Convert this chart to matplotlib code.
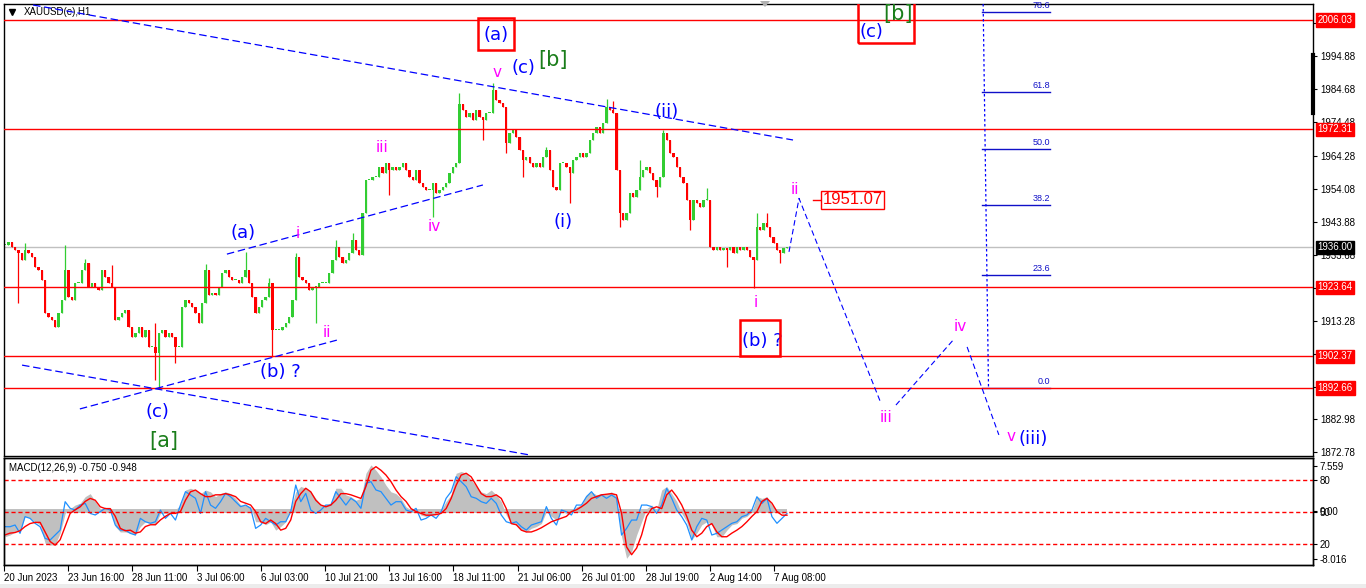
import numpy as np
import matplotlib
matplotlib.use("Agg")
import matplotlib.pyplot as plt
from matplotlib.lines import Line2D
from matplotlib.patches import Rectangle, Polygon
import matplotlib.transforms as mtransforms

# ---- XAUUSD H1 closes (one per ~3.3 px of the reference) ----
closes = [
    1936.7, 1937.7, 1936.2, 1935.2, 1934.2, 1932.1, 1935.2, 1934.2, 1933.1, 1930.0,
    1929.0, 1925.9, 1915.8, 1914.6, 1913.6, 1911.5, 1915.8, 1919.8, 1929.0, 1920.8,
    1919.8, 1925.0, 1925.0, 1929.0, 1931.1, 1923.9, 1925.0, 1923.9, 1922.9, 1929.0,
    1927.0, 1925.0, 1923.9, 1913.6, 1914.6, 1915.7, 1916.7, 1911.5, 1908.5, 1909.6,
    1911.5, 1908.5, 1910.5, 1905.4, 1905.4, 1903.4, 1909.6, 1910.5, 1908.5, 1909.6,
    1908.5, 1905.4, 1905.4, 1917.7, 1919.8, 1918.8, 1917.7, 1915.8, 1912.7, 1918.8,
    1929.0, 1921.3, 1922.0, 1921.3, 1923.9, 1928.0, 1929.0, 1927.0, 1925.9, 1925.9,
    1924.9, 1926.9, 1929.0, 1924.9, 1920.8, 1915.7, 1917.7, 1919.8, 1920.8, 1924.9,
    1910.5, 1910.5, 1910.5, 1911.5, 1912.6, 1914.6, 1919.8, 1933.1, 1926.9, 1925.9,
    1924.9, 1922.9, 1923.9, 1923.9, 1924.9, 1924.9, 1924.9, 1928.0, 1932.1, 1936.2,
    1933.1, 1931.1, 1932.1, 1934.2, 1938.3, 1935.2, 1933.6, 1946.5, 1956.7, 1956.7,
    1957.8, 1957.8, 1960.8, 1958.8, 1961.9, 1959.8, 1960.8, 1959.8, 1960.8, 1961.9,
    1959.8, 1957.8, 1956.7, 1959.8, 1955.7, 1954.7, 1953.6, 1953.6, 1955.7, 1952.6,
    1953.6, 1954.7, 1955.7, 1958.8, 1960.8, 1961.9, 1980.0, 1978.3, 1976.2, 1977.3,
    1975.2, 1978.3, 1976.2, 1975.2, 1977.3, 1977.3, 1984.5, 1981.4, 1980.4, 1979.3,
    1968.0, 1971.1, 1972.1, 1970.1, 1966.0, 1962.9, 1963.9, 1961.9, 1960.8, 1961.9,
    1960.8, 1963.9, 1966.0, 1959.8, 1954.7, 1953.6, 1961.9, 1961.9, 1960.8, 1958.8,
    1962.9, 1963.9, 1964.9, 1963.9, 1964.9, 1969.0, 1971.1, 1973.2, 1971.1, 1974.2,
    1979.3, 1978.3, 1977.3, 1959.8, 1946.5, 1944.4, 1946.5, 1952.6, 1951.6, 1953.6,
    1957.8, 1959.8, 1960.8, 1958.8, 1956.7, 1954.7, 1957.8, 1971.1, 1969.0, 1964.9,
    1963.9, 1960.8, 1957.8, 1955.7, 1950.6, 1944.4, 1950.6, 1949.6, 1948.5, 1950.6,
    1950.6, 1936.2, 1935.2, 1936.2, 1935.2, 1935.7, 1935.2, 1936.2, 1934.2, 1936.2,
    1935.2, 1936.2, 1935.2, 1933.1, 1932.1, 1942.4, 1941.3, 1943.4, 1942.4, 1939.3,
    1937.2, 1935.2, 1934.2, 1935.7, 1936.0,
]
# wick extremes that stick out of the bodies
spike_highs = {6: 1937.3, 18: 1936.7, 24: 1932.5, 32: 1930.5, 45: 1912.7, 60: 1931.0,
               72: 1934.7, 79: 1926.5, 87: 1934.3, 99: 1938.3, 104: 1940.4, 136: 1983.5,
               146: 1986.7, 162: 1967.0, 180: 1981.6, 182: 1981.0, 190: 1962.9,
               197: 1972.1, 210: 1954.2, 225: 1946.5, 228: 1946.5}
spike_lows = {4: 1918.8, 45: 1895.0, 46: 1892.7, 51: 1900.3, 80: 1902.3, 93: 1912.6,
              115: 1952.1, 128: 1945.4, 143: 1969.0, 150: 1965.0, 155: 1957.8,
              169: 1949.6, 184: 1942.4, 195: 1951.6, 205: 1941.3, 216: 1930.0,
              224: 1923.4, 232: 1931.1}

# ---- MACD window (sampled every 5 px) ----
macd_main = [
    -4.3, -4.0, -3.5, -3.2, -0.9, -1.2, -1.8, -2.3, -5.4, -5.7, -5.6, -3.7, -0.4, 0.4, 1.0, 1.3,
    2.4, 2.9, 1.6, 0.4, -0.4, 0.2, -2.6, -3.5, -3.5, -3.7, -4.0, -2.6, -1.8, -2.1, -2.3, -0.4,
    -0.4, -0.4, 0.2, 1.0, 3.5, 3.8, 3.5, 2.9, 3.5, 3.2, 2.4, 2.9, 3.2, 2.9, 2.1, 1.0, 1.0, 0.7,
    -1.8, -1.8, -2.3, -1.8, -3.2, -2.6, -1.8, 0.4, 3.2, 4.1, 3.8, 3.2, 2.1, 1.0, 1.0, 1.3, 3.8,
    3.8, 2.7, 2.4, 1.8, 2.1, 6.3, 7.7, 6.8, 5.7, 4.3, 3.2, 2.9, 2.1, 0.7, 0.2, 0.2, -0.7, -0.9,
    -0.7, -0.4, 0.2, 1.6, 2.7, 6.3, 6.6, 6.3, 5.2, 4.1, 3.2, 2.9, 3.5, 2.7, 1.6, -0.7, -2.1,
    -2.3, -3.2, -3.5, -2.9, -2.6, -2.1, -0.1, -0.9, -1.5, -0.1, -0.4, -0.1, 0.7, 1.0, 2.7, 3.2,
    2.7, 2.9, 2.9, 3.2, 2.4, -4.3, -7.9, -6.8, -4.0, -1.8, 0.4, 1.0, 0.2, 3.5, 4.1, 2.9, 1.6,
    -0.4, -1.8, -4.8, -3.7, -2.3, -1.8, -2.3, -4.3, -4.3, -3.2, -2.3, -2.1, -1.2, -0.9, -0.1,
    2.4, 2.1, 2.4, 1.0, 0.2, -0.4, -0.1,
]
macd_signal = [
    -4.0, -3.7, -3.6, -3.3, -2.6, -2.1, -1.9, -1.9, -3.5, -5.1, -5.7, -4.8, -2.6, -0.4, 0.2,
    0.7, 1.6, 2.1, 1.8, 0.7, 0.4, 0.4, -0.9, -2.9, -3.3, -3.2, -3.7, -3.5, -2.6, -2.3, -2.3,
    -1.5, -0.9, -0.4, -0.4, -0.1, 1.8, 3.2, 3.5, 2.9, 2.4, 2.4, 2.7, 2.7, 2.9, 2.7, 2.4, 1.6,
    1.3, 1.0, -0.1, -1.8, -2.1, -1.5, -2.1, -3.2, -2.9, -1.5, 1.6, 2.9, 3.8, 3.2, 1.8, 1.0,
    0.7, 1.0, 1.8, 2.9, 2.9, 2.7, 2.4, 2.1, 4.1, 6.8, 7.4, 6.8, 6.0, 4.9, 3.5, 2.4, 1.6, 0.4,
    -0.1, -0.4, -0.7, -0.7, -0.6, -0.4, 0.4, 2.1, 4.3, 6.0, 6.3, 5.7, 4.3, 2.9, 2.4, 2.4, 2.7,
    2.1, 0.4, -2.1, -2.3, -3.2, -3.5, -3.5, -3.2, -2.8, -2.3, -1.8, -1.5, -1.2, -0.9, -0.1,
    0.2, 0.7, 1.3, 2.1, 2.4, 2.7, 2.8, 2.9, 2.7, -0.4, -6.0, -7.3, -6.2, -4.0, -0.9, 0.4, 0.7,
    0.4, 2.7, 3.5, 2.4, 1.0, -0.9, -3.2, -4.3, -3.7, -2.6, -2.1, -3.5, -4.3, -4.3, -3.7, -3.2,
    -2.6, -1.8, -0.9, -0.1, 1.6, 2.1, 1.3, -0.1, -0.7, -0.7,
]
osc_line = [
    36.1, 36.1, 37.7, 29.8, 45.6, 44.0, 39.3, 36.1, 25.0, 23.5, 28.2, 32.9, 59.8, 53.5, 51.9,
    56.6, 58.2, 48.7, 47.2, 50.3, 53.5, 51.9, 37.7, 32.9, 32.9, 29.8, 28.2, 44.0, 40.8, 39.3,
    40.8, 51.9, 44.0, 48.7, 42.4, 56.6, 69.3, 66.1, 63.0, 48.7, 69.3, 56.6, 53.5, 59.8, 67.7,
    64.5, 59.8, 55.1, 56.6, 53.5, 34.5, 37.7, 44.0, 40.8, 37.7, 40.8, 40.8, 50.3, 75.6, 59.8,
    67.7, 51.9, 48.7, 51.9, 56.6, 56.6, 69.3, 63.0, 56.6, 63.0, 59.8, 53.5, 77.2, 78.8, 70.9,
    69.3, 63.0, 56.6, 59.8, 59.8, 51.9, 50.3, 53.5, 42.4, 44.0, 47.2, 44.0, 50.3, 63.0, 69.3,
    83.5, 78.8, 74.0, 64.5, 63.0, 59.8, 58.2, 63.0, 58.2, 47.2, 40.8, 39.3, 40.8, 36.1, 32.9,
    37.7, 39.3, 40.8, 55.1, 44.0, 37.7, 51.9, 50.3, 47.2, 56.6, 56.6, 64.5, 69.3, 63.0, 66.1,
    63.0, 66.1, 63.0, 28.2, 34.5, 42.4, 42.4, 56.6, 56.6, 55.1, 48.7, 56.6, 72.4, 63.0, 51.9,
    45.6, 37.7, 23.5, 36.1, 44.0, 42.4, 28.2, 29.8, 32.9, 36.1, 39.3, 40.8, 45.6, 47.2, 51.9,
    64.5, 58.2, 63.0, 45.6, 39.3, 44.0, 48.7,
]

# ---- levels, axis texts ----
sr_levels = [2006.03, 1972.31, 1923.64, 1902.37, 1892.66]
bid_price = 1936.00
price_ticks = [2005.08, 1994.88, 1984.68, 1974.48, 1964.28, 1954.08, 1943.88, 1933.68,
               1923.48, 1913.28, 1903.08, 1892.88, 1882.98, 1872.78]
fib_ratios = [0.0, 0.236, 0.382, 0.5, 0.618, 0.786]
fib_names = ["0.0", "23.6", "38.2", "50.0", "61.8", "78.6"]
fib_low, fib_high = 1892.66, 2040.2
date_labels = ["20 Jun 2023", "23 Jun 16:00", "28 Jun 11:00", "3 Jul 06:00", "6 Jul 03:00",
               "10 Jul 21:00", "13 Jul 16:00", "18 Jul 11:00", "21 Jul 06:00",
               "26 Jul 01:00", "28 Jul 19:00", "2 Aug 14:00", "7 Aug 08:00"]

W, H = 1366, 588
fig = plt.figure(figsize=(W / 100, H / 100), dpi=100)
fig.patch.set_facecolor("white")

ax = fig.add_axes([4 / W, 1 - 456 / H, 1309 / W, 452 / H])
ax2 = fig.add_axes([4 / W, 1 - 565 / H, 1309 / W, 107 / H], sharex=ax)
ax3 = ax2.twinx()

AX_FONT = "Liberation Sans"
BLUE = "#0000ff"
MAG = "#ff00ff"
GREEN = "#1a7d1a"

# ---- candles ----
n = len(closes)
idx = np.arange(n)
c = np.array(closes)
o = np.concatenate([[c[0]], c[:-1]])
hi = np.maximum(o, c)
lo = np.minimum(o, c)
for k, v in spike_highs.items():
    hi[k] = max(hi[k], v)
for k, v in spike_lows.items():
    lo[k] = min(lo[k], v)
col = np.where(c >= o, "#32cd32", "#ff0000")
ax.vlines(idx, lo, hi, colors=col, lw=0.9, zorder=2)
body = np.where(np.abs(c - o) < 0.3, 0.3, c - o)
ax.bar(idx, body, bottom=o, width=0.7, color=col, lw=0, zorder=2)

ax.axhline(bid_price, color="#c0c0c0", lw=1, zorder=1)
for lv in sr_levels:
    ax.axhline(lv, color="#ff0000", lw=1, zorder=3)

ax.set_xlim(-0.3, 391.4)
ax.set_ylim(1871.7, 2010.96)

# ---- trend channel lines ----
dash = dict(color=BLUE, lw=0.9, dashes=(6, 3), zorder=4)
ax.plot([8.4, 235.8], [2010.65, 1969.06], **dash)
ax.plot([5.1, 157.1], [1899.7, 1872.0], **dash)
ax.plot([22.4, 99.3], [1886.2, 1907.4], **dash)
ax.plot([66.4, 143.0], [1933.9, 1955.2], **dash)

# projected path
proj = dict(color=BLUE, lw=0.8, dashes=(5, 3), zorder=4)
ax.plot([234.6, 237.6, 262.1], [1934.6, 1951.07, 1888.0], **proj)
ax.plot([266.6, 283.7], [1887.4, 1907.4], **proj)
ax.plot([287.9, 297.4], [1905.3, 1878.2], **proj)

# fibonacci retracement
ax.plot([292.3, 294.3], [fib_high, fib_low], color=BLUE, lw=0.9, dashes=(2, 2), zorder=4)
for r, nm in zip(fib_ratios, fib_names):
    y = fib_low + r * (fib_high - fib_low)
    ax.plot([292.3, 312.7], [y, y], color="#1010c8", lw=1, zorder=2)
    ax.text(312.7, y + 0.6, nm, ha="right", va="bottom", fontsize=6.5,
            color="#1010c8", family=AX_FONT, zorder=5)

# ---- wave labels ----
def lab(x, y, s, color, size):
    ax.text(x, y, s, ha="center", va="center", color=color, fontsize=size,
            family="DejaVu Sans", zorder=6)

lab(71.2, 1940.4, "(a)", BLUE, 13)
lab(87.7, 1940.4, "i", MAG, 11)
lab(112.8, 1966.9, "iii", MAG, 11)
lab(96.3, 1909.6, "ii", MAG, 11)
lab(82.3, 1897.6, "(b) ?", BLUE, 13)
lab(45.5, 1885.3, "(c)", BLUE, 13)
lab(47.6, 1876.3, "[a]", GREEN, 15)
lab(128.4, 1942.3, "iv", MAG, 11)
lab(147.2, 1990.0, "v", MAG, 11)
lab(155.0, 1991.2, "(c)", BLUE, 13)
lab(164.0, 1993.7, "[b]", GREEN, 15)
lab(146.9, 2001.4, "(a)", BLUE, 13)
lab(167.0, 1943.8, "(i)", BLUE, 13)
lab(198.1, 1977.7, "(ii)", BLUE, 13)
lab(224.7, 1919.1, "i", MAG, 11)
lab(226.6, 1907.1, "(b) ?", BLUE, 13)
lab(236.4, 1953.7, "ii", MAG, 11)
lab(263.6, 1883.7, "iii", MAG, 11)
lab(285.8, 1911.5, "iv", MAG, 11)
lab(301.0, 1877.6, "v", MAG, 11)
lab(307.6, 1876.9, "(iii)", BLUE, 13)
lab(259.4, 2002.3, "(c)", BLUE, 13)
lab(267.2, 2007.9, "[b]", GREEN, 15)

box = dict(fill=False, ec="#ff0000", lw=1.8, zorder=7)
ax.add_patch(Rectangle((141.4, 1996.8), 11.0, 9.9, **box))
ax.add_patch(Rectangle((219.9, 1902.5), 12.0, 11.1, **box))
ax.add_patch(Rectangle((255.2, 1998.9), 16.8, 14.0, **box))

ax.plot([241.8, 244.5], [1950.6, 1950.6], color="#ff0000", lw=1, zorder=5)
ax.text(253.6, 1950.6, "1951.07", ha="center", va="center", color="#ff0000",
        fontsize=12, family="Liberation Sans", zorder=6,
        bbox=dict(boxstyle="square,pad=0.08", fc="white", ec="#ff0000", lw=1))

# ---- price scale ----
ax.yaxis.tick_right()
ax.set_yticks(price_ticks)
ax.set_yticklabels([f"{v:.2f}" for v in price_ticks], family=AX_FONT, fontsize=7)
ax.tick_params(axis="y", length=3, width=0.8, pad=2)
ax.tick_params(axis="x", bottom=False, labelbottom=False)
for s in ax.spines.values():
    s.set_linewidth(1)

trans = mtransforms.blended_transform_factory(ax.transAxes, ax.transData)
for lv in sr_levels:
    ax.text(1.0035, lv, f"{lv:.2f}", transform=trans, ha="left", va="center",
            color="white", fontsize=7, family=AX_FONT, zorder=8, clip_on=False,
            bbox=dict(boxstyle="square,pad=0.18", fc="#ff0000", ec="#ff0000"))
ax.text(1.0035, bid_price, f"{bid_price:.2f}", transform=trans, ha="left", va="center",
        color="white", fontsize=7, family=AX_FONT, zorder=8, clip_on=False,
        bbox=dict(boxstyle="square,pad=0.18", fc="black", ec="black"))

ax.text(20 / 1309, 1 - 8 / 452, "XAUUSD(e),H1", transform=ax.transAxes, ha="left",
        va="center", fontsize=7, family=AX_FONT, color="black")
ax.plot([8 / 1309], [1 - 8 / 452], marker="v", ms=4, color="black",
        transform=ax.transAxes, clip_on=False)

# chart shift marker and scale thumb
fig.add_artist(Polygon([[760 / W, 1 - 1 / H], [770 / W, 1 - 1 / H], [765 / W, 1 - 7 / H]],
                       closed=True, fc="#b0b0b0", ec="none"))
fig.add_artist(Line2D([1313 / W, 1313 / W], [1 - 55 / H, 1 - 113 / H], lw=3, color="black"))

# ---- MACD window ----
xm = np.linspace(0, n - 1, len(macd_main))
xs = np.linspace(0, n - 1, len(macd_signal))
xo = np.linspace(0, n - 1, len(osc_line))
ax2.fill_between(xm, macd_main, 0, color="#c0c0c0", lw=0, zorder=1)
ax2.fill_between([0, n - 1], -0.38, 0.28, color="#c0c0c0", lw=0, zorder=1)
ax2.plot(xo, osc_line, color="#1e90ff", lw=0.9, transform=ax3.transData, zorder=2)
ax2.plot(xs, macd_signal, color="#ff0000", lw=1, zorder=3)
ax2.set_ylim(-9.02, 8.85)
ax3.set_ylim(-0.2, 101.2)
for lv in (80, 50, 20):
    ax3.axhline(lv, color="#ff0000", lw=1, dashes=(3, 2))

ax2.yaxis.tick_right()
ax2.set_yticks([7.559, 0.0, -8.016])
ax2.set_yticklabels(["7.559", "0.00", "-8.016"], family=AX_FONT, fontsize=7)
ax3.set_yticks([80, 50, 20])
ax3.set_yticklabels(["80", "50", "20"], family=AX_FONT, fontsize=7)
for a in (ax2, ax3):
    a.tick_params(axis="y", length=3, width=0.8, pad=2)
    for s in a.spines.values():
        s.set_linewidth(1)

tick_pos = [k * 19.21 - 0.3 for k in range(len(date_labels))]
ax2.set_xticks(tick_pos)
ax2.set_xticklabels(date_labels, family=AX_FONT, fontsize=7, ha="left")
ax2.tick_params(axis="x", length=4, width=0.8, pad=2)
ax2.set_xlim(-0.3, 391.4)

ax2.text(5 / 1309, 0.906, "MACD(12,26,9) -0.750 -0.948", transform=ax2.transAxes,
         ha="left", va="center", fontsize=7, family=AX_FONT, color="black")

fig.add_artist(Rectangle((0, 0), 1, 4 / H, transform=fig.transFigure,
                         fc="#ececec", ec="none"))

fig.savefig("out.png", dpi=100)
